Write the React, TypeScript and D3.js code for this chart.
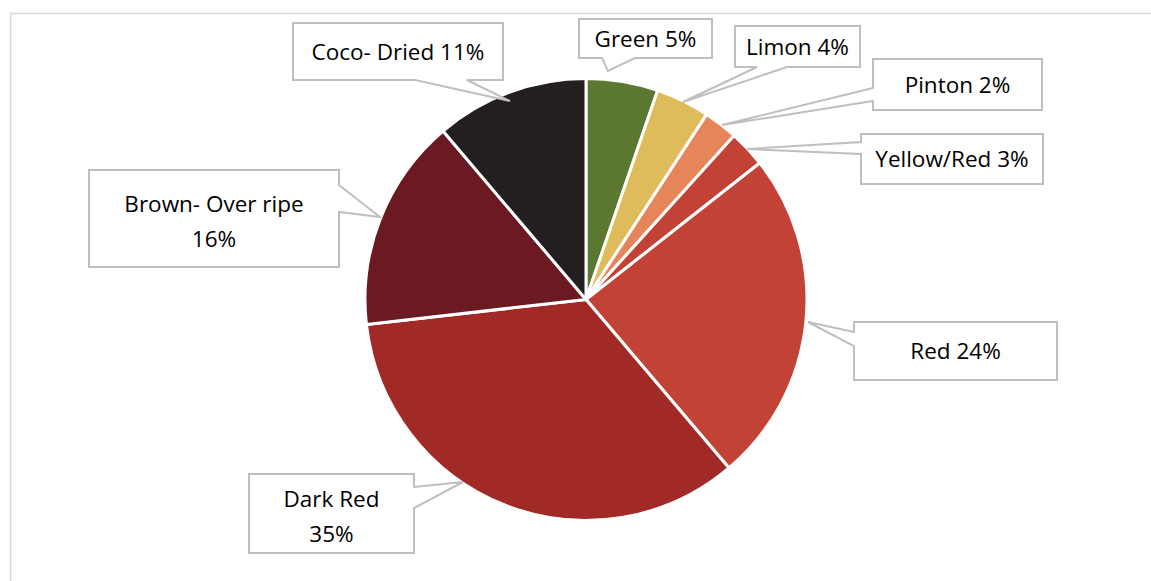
import React from "react";
import * as d3 from "d3";

const categories = ["Green", "Limon", "Pinton", "Yellow/Red", "Red", "Dark Red", "Brown- Over ripe", "Coco- Dried"];
// slice sizes
const values = [5.25, 3.95, 2.5, 2.7, 24.4, 34.4, 15.6, 11.2];
// percentages as printed in the labels
const labelPercents = ["5%", "4%", "2%", "3%", "24%", "35%", "16%", "11%"];
const colors = ["#5B7730", "#DEBC5C", "#E6855A", "#C34236", "#C24335", "#A12A27", "#6B1A22", "#231F20"];

type Callout = { x: number; y: number; w: number; h: number; side: "top" | "bottom" | "left" | "right"; a: number; b: number; tx: number; ty: number; twoLine: boolean };
const callouts: Callout[] = [
  { x: 579, y: 19, w: 133, h: 39, side: "bottom", a: 602, b: 635, tx: 608, ty: 71, twoLine: false },
  { x: 735, y: 26, w: 125, h: 41, side: "bottom", a: 757, b: 787, tx: 683, ty: 102, twoLine: false },
  { x: 873, y: 59, w: 169, h: 51, side: "left", a: 88, b: 101, tx: 722, ty: 125, twoLine: false },
  { x: 861, y: 134, w: 182, h: 50, side: "left", a: 142, b: 154, tx: 747, ty: 149, twoLine: false },
  { x: 854, y: 322, w: 203, h: 58, side: "left", a: 332, b: 346, tx: 808, ty: 322, twoLine: false },
  { x: 249, y: 474, w: 165, h: 79, side: "right", a: 487, b: 508, tx: 463, ty: 482, twoLine: true },
  { x: 89, y: 170, w: 250, h: 97, side: "right", a: 185, b: 212, tx: 380, ty: 217, twoLine: true },
  { x: 293, y: 23, w: 210, h: 57, side: "bottom", a: 415, b: 467, tx: 510, ty: 101, twoLine: false },
];

function calloutPath(c: Callout): string {
  const { x, y, w, h, side, a, b, tx, ty } = c;
  const r = x + w, btm = y + h;
  const p: [number, number][] = [];
  p.push([x, y]);
  if (side === "top") { p.push([a, y], [tx, ty], [b, y]); }
  p.push([r, y]);
  if (side === "right") { p.push([r, a], [tx, ty], [r, b]); }
  p.push([r, btm]);
  if (side === "bottom") { p.push([b, btm], [tx, ty], [a, btm]); }
  p.push([x, btm]);
  if (side === "left") { p.push([x, b], [tx, ty], [x, a]); }
  return "M" + p.map((q) => q.join(",")).join("L") + "Z";
}

export default function App() {
  const W = 1151, H = 581;
  const cx = 586, cy = 299.5, R = 221;
  const pie = d3.pie<number>().sort(null).value((d) => d)(values);
  const arc = d3.arc<d3.PieArcDatum<number>>().innerRadius(0).outerRadius(R);
  const font = "'Open Sans', sans-serif";
  const fs = 22.5;
  return (
    <svg width={W} height={H} style={{ position: "absolute", left: 0, top: 0 }}>
      <rect x={0} y={0} width={W} height={H} fill="#ffffff" />
      <path d={`M10.5,${H}V13.5H${W}`} fill="none" stroke="#D9D9D9" strokeWidth={1.5} />
      <g transform={`translate(${cx},${cy})`}>
        {pie.map((d, i) => (
          <path key={i} d={arc(d) || ""} fill={colors[i]} stroke="#ffffff" strokeWidth={3} strokeLinejoin="round" />
        ))}
      </g>
      {callouts.map((c, i) => {
        const label = categories[i];
        const pct = labelPercents[i];
        const mx = c.x + c.w / 2, my = c.y + c.h / 2;
        return (
          <g key={i}>
            <path d={calloutPath(c)} fill="#ffffff" stroke="#BFBFBF" strokeWidth={2} />
            {c.twoLine ? (
              <text x={mx} textAnchor="middle" fontFamily={font} fontSize={fs} fill="#000">
                <tspan x={mx} y={my - 6.5}>{label}</tspan>
                <tspan x={mx} y={my + 28.5}>{pct}</tspan>
              </text>
            ) : (
              <text x={mx} y={my + 8} textAnchor="middle" fontFamily={font} fontSize={fs} fill="#000">
                {`${label} ${pct}`}
              </text>
            )}
          </g>
        );
      })}
    </svg>
  );
}
